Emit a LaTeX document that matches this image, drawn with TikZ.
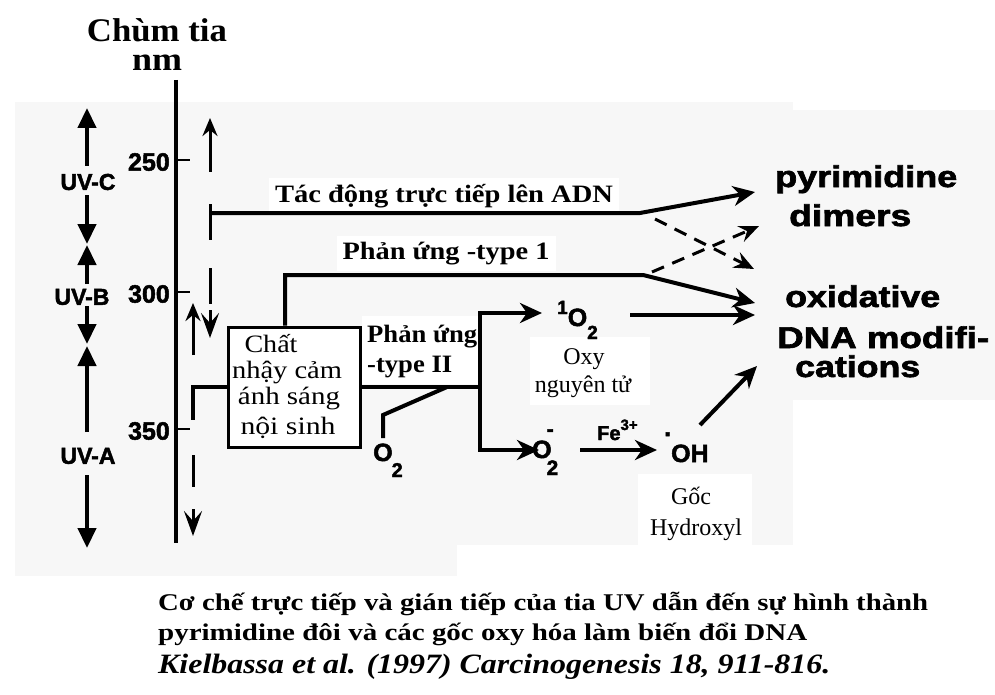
\documentclass[tikz,border=0pt]{standalone}
\usepackage{fontspec}
\setmainfont{Liberation Serif}
\newfontfamily\hel{Liberation Sans}[BoldFeatures={FakeBold=2}]
\usetikzlibrary{arrows.meta}
\newcommand\fs[1]{\fontsize{#1}{#1}\selectfont}
\newcommand\fitw[2]{\resizebox{#1}{\height}{#2}}
\begin{document}
\begin{tikzpicture}[x=1pt,y=-1pt,
  txt/.style={inner sep=0pt, anchor=base},
  txtw/.style={inner sep=0pt, anchor=base west},
  lbl/.style={fill=white, inner sep=6pt, anchor=base},
  ln/.style={line width=4pt},
  arr/.style={line width=4pt, -{Stealth[length=22pt,width=20pt,inset=7pt]}},
  darr/.style={line width=3pt, dash pattern=on 13pt off 9pt, -{Stealth[length=20pt,width=17pt,inset=7pt]}},
  uvarr/.style={line width=4.5pt, -{Triangle[length=20pt,width=18pt]}},
  ptr/.style={line width=3pt, -{Stealth[length=18pt,width=15pt,inset=6pt]}},
  vptr/.style={line width=3pt, -{Stealth[length=25pt,width=18pt,inset=10pt]}},
  tickmark/.style={line width=2.5pt},
  helb/.style={font=\hel\bfseries\fs{#1}},
  timb/.style={font=\bfseries\fs{#1}},
  timr/.style={font=\fs{#1}}
]
\useasboundingbox (0,0) rectangle (995,695);
% background
\fill[white] (0,0) rectangle (995,695);
\fill[gray!6] (15,102) rectangle (793,576);
\fill[gray!6] (635,110) rectangle (995,400);
\fill[white] (457,545) rectangle (793,576);
\fill[white] (362,316) rectangle (480,384);
\fill[white] (530,337) rectangle (650,405);
\fill[white] (638,474) rectangle (752,545);

% title
\node[inner sep=0pt, anchor=north, align=center, font=\bfseries\fontsize{33}{29}\selectfont] (title) at (157,18) {\fitw{140pt}{Chùm tia}\\\fitw{50pt}{nm}};

% axis
\coordinate (axtop) at (176,80);
\coordinate (axbot) at (176,543);
\draw[line width=4pt] (axtop) -- (axbot);
\foreach \v/\yy in {250/160, 300/292, 350/429} {
  \coordinate (t\v) at (176,\yy);
  \draw[tickmark] (t\v) -- ++(14,0);
  \node[inner sep=0pt, anchor=east, helb=25] (n\v) at (170,\yy+2) {\v};
}

% UV bands
\node[inner sep=0pt, helb=23] (uvc) at (88,182) {UV-C};
\node[inner sep=0pt, helb=23] (uvb) at (82,297) {UV-B};
\node[inner sep=0pt, helb=23] (uva) at (88,456) {UV-A};
\coordinate (c1) at (87,166); \coordinate (c2) at (87,108);
\coordinate (c3) at (87,195); \coordinate (c4) at (87,244);
\coordinate (b1) at (87,284); \coordinate (b2) at (87,245);
\coordinate (b3) at (87,306); \coordinate (b4) at (87,344);
\coordinate (a1) at (87,432); \coordinate (a2) at (87,346);
\coordinate (a3) at (87,475); \coordinate (a4) at (87,548);
\draw[uvarr] (c1) -- (c2);
\draw[uvarr] (c3) -- (c4);
\draw[uvarr] (b1) -- (b2);
\draw[uvarr] (b3) -- (b4);
\draw[uvarr] (a1) -- (a2);
\draw[uvarr] (a3) -- (a4);

% labels
\node[lbl, timb=25] (direct) at (444,202) {\fitw{338pt}{Tác động trực tiếp lên ADN}};
\node[lbl, timb=25] (type1) at (446,259) {\fitw{207pt}{Phản ứng -type 1}};
\node[txtw, timb=25] (type2a) at (367,342) {\fitw{110pt}{Phản ứng}};
\node[txtw, timb=25] (type2b) at (367,372) {\fitw{85pt}{-type II}};

% photosensitizer box
\node[draw, line width=3pt, fill=white, minimum width=132pt, minimum height=120pt, inner sep=0pt] (box) at (294,387) {};
\node[txt, timr=25] (bt1) at (271,352) {\fitw{53pt}{Chất}};
\node[txt, timr=25] (bt2) at (287,378) {\fitw{110pt}{nhậy cảm}};
\node[txt, timr=25] (bt3) at (289,404) {\fitw{102pt}{ánh sáng}};
\node[txt, timr=25] (bt4) at (288,434) {\fitw{95pt}{nội sinh}};

% oxygen species
\node[txtw, helb=25] (o1) at (557,326) {\raisebox{12pt}{\fs{19}1}O\raisebox{-13pt}{\fs{19}2}};
\node[txtw, helb=25] (o2) at (373,461) {O\kern-1pt\raisebox{-16pt}{\fs{20}2}};
\node[txtw, helb=25] (o2m) at (532,458) {O\kern-5pt\rlap{\raisebox{22pt}{\fs{21}-}}\raisebox{-17pt}{\fs{21}2}};
\node[txtw, helb=20] (fe) at (597,440) {Fe\raisebox{10pt}{\fs{15}3+}};
\node[txtw, helb=25] (oh) at (664,462) {\raisebox{26pt}{.}OH};
\node[txt, timr=24] (oxy1) at (584,364) {Oxy};
\node[txt, timr=24] (oxy2) at (583,392) {nguyên tử};
\node[txt, timr=24] (goc1) at (691,504) {Gốc};
\node[txt, timr=24] (goc2) at (696,535) {Hydroxyl};

% products
\node[txtw, helb=30] (pd1) at (775,187) {\fitw{182pt}{pyrimidine}};
\node[txtw, helb=30] (pd2) at (789,226) {\fitw{122pt}{dimers}};
\node[txtw, helb=30] (ox1) at (785,307) {\fitw{155pt}{oxidative}};
\node[txtw, helb=30] (ox2) at (777,348) {\fitw{212pt}{DNA modifi-}};
\node[txtw, helb=30] (ox3) at (795,377) {\fitw{125pt}{cations}};

% caption
\node[txtw, timb=24] (cap1) at (158,610) {\fitw{770pt}{Cơ chế trực tiếp và gián tiếp của tia UV dẫn đến sự hình thành}};
\node[txtw, timb=24] (cap2) at (158,640) {\fitw{649pt}{pyrimidine đôi và các gốc oxy hóa làm biến đổi DNA}};
\node[txtw, font=\bfseries\itshape\fs{28}] (cap3) at (158,673) {\fitw{672pt}{Kielbassa et al. (1997) Carcinogenesis 18, 911-816.}};

% pointers next to the axis
\coordinate (p1a) at (210,172); \coordinate (p1b) at (210,118);
\coordinate (d0) at (210,213);
\coordinate (s1) at (210,204); \coordinate (s2) at (210,240);
\coordinate (p2a) at (210,268); \coordinate (p2b) at (210,338);
\coordinate (p3a) at (193,355); \coordinate (p3b) at (193,303);
\coordinate (k1) at (193,420);
\coordinate (p4a) at (193,455); \coordinate (p4b) at (193,536);
\draw[ptr] (p1a) -- (p1b);
\draw[line width=3pt] (s1) -- (s2);
\draw[vptr, dash pattern=on 36pt off 6pt] (p2a) -- (p2b);
\draw[ptr] (p3a) -- (p3b);
\draw[ln] (box.west) -| (k1);
\draw[vptr, dash pattern=on 32pt off 22pt] (p4a) -- (p4b);

% direct pathway
\coordinate (j1) at (640,213);
\coordinate (pdtip) at (755,192);
\coordinate (j1d) at (655,219);
\coordinate (oxtipd) at (754,269);
\draw[arr] (d0) -- (j1) -- (pdtip);
\draw[darr] (j1d) -- (oxtipd);

% type I
\coordinate (j2) at (643,275);
\coordinate (oxtip) at (755,303);
\coordinate (j2d) at (652,272);
\coordinate (pdtipd) at (759,226);
\draw[arr] ([xshift=-9pt]box.north) |- (j2) -- (oxtip);
\draw[darr] (j2d) -- (pdtipd);

% type II
\coordinate (j3) at (480,387);
\coordinate (o1tip) at (542,313);
\coordinate (o2mtip) at (539,450);
\draw[ln] (box.east) -- (j3);
\draw[arr] (j3) |- (o1tip);
\draw[arr] (j3) |- (o2mtip);
\coordinate (q1) at (383,438); \coordinate (q2) at (383,415); \coordinate (q3) at (447,387);
\draw[ln] (q1) -- (q2) -- (q3);

% to products
\coordinate (r1) at (630,315); \coordinate (r2) at (755,315);
\draw[arr] (r1) -- (r2);
\coordinate (f1) at (580,450); \coordinate (f2) at (657,450);
\draw[arr] (f1) -- (f2);
\coordinate (h1) at (700,425); \coordinate (h2) at (757,366);
\draw[arr] (h1) -- (h2);
\end{tikzpicture}
\end{document}
